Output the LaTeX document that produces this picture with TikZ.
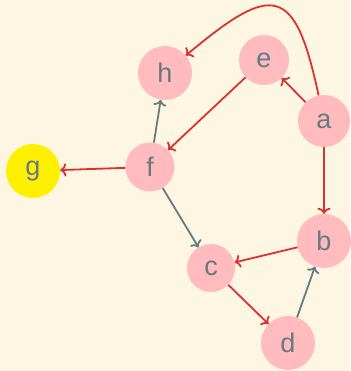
\documentclass[tikz,border=0pt]{standalone}
\usepackage{fontspec}
\setmainfont{Liberation Sans}
\usetikzlibrary{arrows.meta}

\definecolor{paper}{HTML}{FDF6E3}
\definecolor{nodepink}{RGB}{255,187,190}
\definecolor{nodeyellow}{RGB}{255,240,0}
\definecolor{labelgrey}{RGB}{101,123,131}
\definecolor{edgered}{RGB}{220,50,47}
\definecolor{edgegrey}{RGB}{101,123,131}

\begin{document}
\begin{tikzpicture}[
    x=1pt, y=1pt,
    vertex/.style={circle, fill=nodepink, inner sep=0pt, text=labelgrey, font=\fontsize{27}{30}\selectfont},
    redarrow/.style={-{To[length=6pt,width=13pt]}, line width=1.8pt, draw=edgered},
    greyarrow/.style={-{To[length=6pt,width=13pt]}, line width=1.8pt, draw=edgegrey}
  ]
    \fill[paper] (0,0) rectangle (350,371);
    \useasboundingbox (0,0) rectangle (350,371);

    \node[vertex, minimum size=54pt] (h) at (165,298) {h};
    \node[vertex, minimum size=50pt] (e) at (264,311) {e};
    \node[vertex, minimum size=52pt] (a) at (324,250) {a};
    \node[vertex, minimum size=49pt] (f) at (150,204) {f};
    \node[vertex, minimum size=54pt, fill=nodeyellow] (g) at (33,200) {g};
    \node[vertex, minimum size=48pt] (c) at (211,103) {c};
    \node[vertex, minimum size=54pt] (b) at (324,130) {b};
    \node[vertex, minimum size=54pt] (d) at (288,28) {d};

    \draw[redarrow] (a) to[out=102, in=40, looseness=2.1] (h);
    \draw[redarrow] (a) -- (e);
    \draw[redarrow] (a) -- (b);
    \draw[redarrow] (e) -- (f);
    \draw[greyarrow] (f) -- (h);
    \draw[redarrow] (f) -- (g);
    \draw[greyarrow] (f) -- (c);
    \draw[redarrow] (b) -- (c);
    \draw[redarrow] (c) -- (d);
    \draw[greyarrow] (d) -- (b);
  \end{tikzpicture}
\end{document}
